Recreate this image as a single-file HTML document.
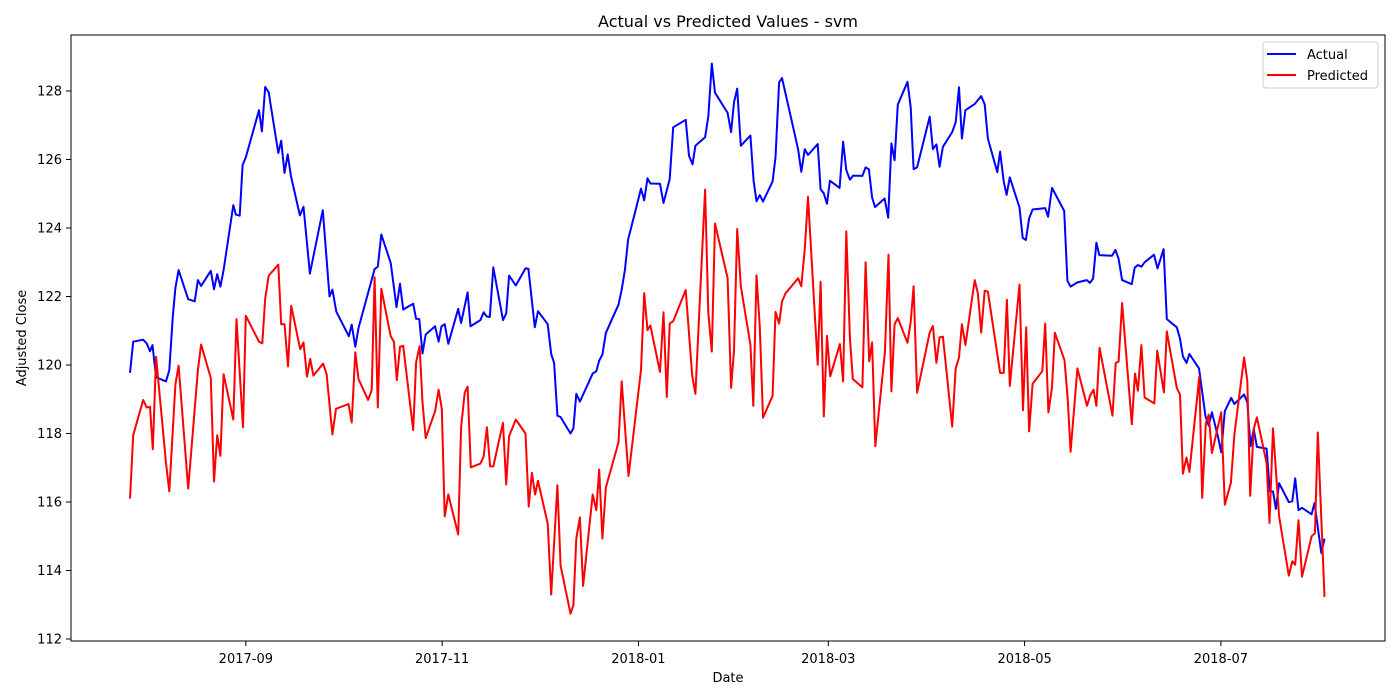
<!DOCTYPE html>
<html><head><meta charset="utf-8"><style>
body{margin:0;background:#fff;}
svg{display:block;font-family:"DejaVu Sans","Liberation Sans",sans-serif;}
</style></head><body>
<svg id="chart" width="1400" height="700" viewBox="0 0 1400 700">
<rect x="0" y="0" width="1400" height="700" fill="#fff"/>
<text x="728" y="27" text-anchor="middle" font-size="16" fill="#000">Actual vs Predicted Values - svm</text>
<g id="plot"></g>
<rect x="71" y="35" width="1314" height="606" fill="none" stroke="#000" stroke-width="1"/>
<text x="728" y="682" text-anchor="middle" font-size="13">Date</text>
<text x="26" y="338" text-anchor="middle" font-size="13" transform="rotate(-90 26 338)">Adjusted Close</text>
<g>
<rect x="1263" y="42" width="115" height="46" rx="3" fill="#fff" stroke="#ccc"/>
<line x1="1267" y1="54" x2="1296" y2="54" stroke="#0000ff" stroke-width="2"/>
<text x="1307" y="59" font-size="13">Actual</text>
<line x1="1267" y1="75" x2="1296" y2="75" stroke="#ff0000" stroke-width="2"/>
<text x="1307" y="80" font-size="13">Predicted</text>
</g>
</svg>
<script>
// Data: days since 2017-07-27, values in Adjusted Close
const actualDays=[0,1,4.1,5.2,6.2,7,8.1,11.2,12.2,13.3,14.1,15.1,18.1,20.1,21.1,22.1,25.1,26.1,27.1,28.1,29.1,32.1,32.9,34.1,35,36,40.1,41,42,43.1,46.1,47,48,49,50,52.8,53.9,55.9,59.9,62,62.9,64.1,68,68.9,70,71,76,77,78.1,81,82.8,83.9,84.9,88,88.9,89.9,90.9,91.9,94.8,95.9,96.8,97.8,98.9,102,102.9,104.9,105.8,108.9,109.9,110.8,111.8,112.9,115.9,116.9,117.8,119.9,122.9,123.8,125.8,126.8,129.8,130.9,131.8,132.8,133.8,136.9,137.8,138.7,139.8,143.8,144.9,145.8,146.8,147.9,151.8,152.8,153.8,154.8,156.9,158.8,159.8,160.8,161.7,164.7,165.8,167.7,168.8,172.7,173.7,174.8,175.7,178.7,179.7,180.8,181.8,185.7,186.8,187.7,188.7,189.8,192.8,193.8,194.7,195.7,196.7,199.7,200.6,201.7,202.6,207.6,208.6,209.7,210.7,213.7,214.6,215.6,216.6,217.5,220.5,221.6,222.6,223.7,224.7,227.6,228.6,229.6,230.6,231.5,234.5,235.6,236.6,237.6,238.6,241.6,242.6,243.5,244.6,248.5,249.5,250.6,251.6,252.6,255.5,256.6,257.6,258.5,259.6,262.5,264.5,265.6,266.6,269.5,270.4,271.5,272.4,273.4,276.4,277.4,278.4,279.4,280.5,284.4,285.3,286.5,290.3,291.3,292.3,294.3,297.3,298.3,299.3,300.3,301.2,305.2,306.2,307.2,308.3,311.3,312.2,313.2,314.3,315.3,318.2,319.3,321.2,322.2,325.3,326.3,327.2,328.3,329.2,332.2,334.2,335.2,336.2,338.2,339.1,340.2,342.2,343.2,346.2,347.2,348.2,349.2,350.2,353.2,354.2,355.2,356.1,357.1,360.1,361.2,362.1,363.1,364.2,367.2,368.1,370.2,371.2];
const actualValues=[119.77,120.68,120.74,120.63,120.4,120.58,119.64,119.52,119.85,121.42,122.25,122.77,121.92,121.86,122.48,122.31,122.75,122.21,122.65,122.29,122.77,124.67,124.39,124.36,125.84,126.06,127.44,126.82,128.12,127.96,126.19,126.55,125.61,126.15,125.52,124.37,124.62,122.67,124.52,122,122.2,121.56,120.84,121.18,120.53,121.08,122.8,122.87,123.81,122.98,121.69,122.37,121.62,121.79,121.35,121.34,120.34,120.89,121.13,120.68,121.13,121.19,120.62,121.64,121.23,122.12,121.13,121.31,121.54,121.42,121.4,122.85,121.31,121.5,122.61,122.32,122.82,122.81,121.1,121.57,121.19,120.32,120.06,118.52,118.48,118,118.15,119.16,118.93,119.75,119.82,120.13,120.3,120.94,121.76,122.2,122.77,123.66,124.44,125.15,124.81,125.45,125.3,125.29,124.73,125.43,126.94,127.16,126.11,125.86,126.4,126.65,127.25,128.8,127.95,127.36,126.8,127.67,128.07,126.4,126.7,125.38,124.78,124.96,124.77,125.36,126.06,128.25,128.38,126.3,125.64,126.3,126.13,126.45,125.13,125.01,124.71,125.38,125.17,126.52,125.69,125.41,125.53,125.52,125.77,125.71,124.89,124.61,124.86,124.3,126.47,125.98,127.6,128.27,127.52,125.72,125.77,127.25,126.3,126.44,125.79,126.37,126.8,127.09,128.11,126.61,127.44,127.62,127.85,127.61,126.61,125.63,126.23,125.36,124.97,125.48,124.6,123.71,123.65,124.28,124.54,124.58,124.33,125.17,124.5,122.46,122.29,122.41,122.48,122.4,122.52,123.57,123.21,123.19,123.36,123.1,122.48,122.36,122.84,122.92,122.87,123,123.22,122.82,123.38,121.34,121.1,120.77,120.25,120.06,120.32,119.9,118.5,118.23,118.62,117.87,117.45,118.65,119.04,118.86,119.14,118.91,117.63,118.13,117.61,117.56,116.31,116.31,115.8,116.55,116,116.02,116.69,115.76,115.83,115.64,115.97,114.51,114.93];
const predictedDays=[0,1,4.1,5.2,6.2,7.1,8.1,11.2,12.2,14.1,15.1,18.1,21.1,22.1,25.1,26.1,27.1,28.1,29.1,32.1,33.1,35.1,36,40.1,41.1,42,43.1,46.1,47,48,49.1,50.1,52.9,53.9,55,56,57,60,61.1,62.9,64,67.9,68.9,70,71,74,75.1,76,77,78.1,81,82,82.9,83.9,84.9,88,88.9,90,90.9,91.9,94.8,95.9,96.9,97.8,98.9,102,102.9,104,104.9,105.9,108.9,109.9,110.9,111.9,112.9,115.9,116.9,117.8,119.9,122.9,123.9,124.9,125.9,126.8,129.8,130.9,132.8,133.8,136.9,137.8,138.7,139.8,140.8,143.8,144.9,145.8,146.8,147.9,151.8,152.8,154.9,158.8,159.8,160.8,161.7,164.7,165.8,166.8,167.7,168.8,172.7,174.7,175.7,178.7,179.7,180.8,181.8,185.7,186.8,187.7,188.7,189.8,192.8,193.7,194.7,195.7,196.7,199.7,200.6,201.7,202.6,203.7,207.6,208.6,209.7,210.7,213.7,214.6,215.6,216.6,217.6,220.6,221.6,222.6,223.7,224.6,227.6,228.6,229.7,230.6,231.6,234.6,235.7,236.6,237.6,238.6,241.6,242.6,243.5,244.6,248.5,249.5,250.6,251.6,252.6,255.5,256.6,257.6,258.5,259.6,262.5,263.5,264.5,265.6,266.6,270.4,271.5,272.5,273.4,276.4,277.5,278.5,279.4,280.5,283.5,284.4,285.4,286.5,287.4,290.4,291.4,292.3,294.4,297.4,298.4,299.4,300.3,301.3,305.3,306.3,307.2,308.3,311.3,312.3,313.2,314.3,315.3,318.3,319.2,321.3,322.2,325.3,326.3,327.2,328.3,329.2,332.3,333.2,334.3,335.2,336.2,339.1,340.2,342.1,343.2,346.2,347.2,348.1,349.2,350.2,353.2,354.1,355.2,357.1,360.1,361.2,362.1,363.1,364.2,367.2,368.2,369.1,371.2];
const predictedValues=[116.1,117.95,118.98,118.76,118.78,117.54,120.24,117.14,116.31,119.43,119.98,116.39,119.85,120.6,119.62,116.6,117.95,117.35,119.73,118.41,121.34,118.18,121.44,120.68,120.63,121.94,122.61,122.93,121.19,121.19,119.96,121.73,120.46,120.66,119.66,120.18,119.69,120.04,119.73,117.97,118.72,118.86,118.32,120.37,119.59,118.98,119.26,122.56,118.76,122.23,120.84,120.68,119.56,120.53,120.56,118.1,120.08,120.55,118.91,117.87,118.65,119.28,118.72,115.58,116.22,115.05,118.18,119.19,119.37,117.01,117.12,117.33,118.18,117.04,117.04,118.31,116.51,117.92,118.41,118,115.87,116.85,116.22,116.62,115.37,113.3,116.49,114.14,112.74,112.99,114.93,115.55,113.55,116.22,115.76,116.95,114.93,116.43,117.74,119.52,116.76,119.85,122.1,121.02,121.15,119.8,121.54,119.07,121.21,121.28,122.19,119.69,119.16,125.12,121.52,120.39,124.13,122.54,119.33,120.42,123.97,122.3,120.6,118.81,122.62,121.1,118.46,119.1,121.55,121.21,121.85,122.09,122.53,122.3,123.4,124.91,120.01,122.43,118.5,120.85,119.67,120.61,119.52,123.9,120.79,119.59,119.35,123,120.11,120.66,117.63,120.37,123.22,119.23,121.19,121.37,120.65,121.26,122.3,119.19,120.95,121.14,120.06,120.81,120.83,118.2,119.9,120.22,121.19,120.58,122.48,122.09,120.95,122.17,122.14,119.77,119.77,121.9,119.39,122.35,118.68,121.1,118.06,119.45,119.82,121.21,118.62,119.35,120.94,120.14,119.02,117.47,119.9,118.81,119.12,119.28,118.81,120.5,118.52,120.06,120.1,121.81,118.27,119.75,119.25,120.58,119.05,118.88,120.42,119.2,120.98,119.33,119.14,116.83,117.3,116.88,119.66,116.12,118.29,118.55,117.43,118.62,115.92,116.56,117.97,120.22,119.54,116.18,118.13,118.47,117.14,115.39,118.15,115.58,113.85,114.27,114.17,115.47,113.82,115,115.09,118.03,113.23];
const yTicks=[112,114,116,118,120,122,124,126,128];
const xTickDates=["2017-09-01","2017-11-01","2018-01-01","2018-03-01","2018-05-01","2018-07-01"];
const xTickLabels=["2017-09","2017-11","2018-01","2018-03","2018-05","2018-07"];
const originDate="2017-07-27";

const NS="http://www.w3.org/2000/svg";
const plot=document.getElementById('plot');
const xScale=d=>130+d*3.218;
const yScale=v=>639-(v-112)*34.25;
const dayOf=s=>(Date.parse(s)-Date.parse(originDate))/86400000;

yTicks.forEach(t=>{
  const y=yScale(t);
  const ln=document.createElementNS(NS,'line');
  ln.setAttribute('x1',66);ln.setAttribute('x2',71);ln.setAttribute('y1',y);ln.setAttribute('y2',y);
  ln.setAttribute('stroke','#000');
  
  
  plot.appendChild(ln);
  const tx=document.createElementNS(NS,'text');
  tx.setAttribute('x',62);tx.setAttribute('y',y+4.5);tx.setAttribute('text-anchor','end');tx.setAttribute('font-size','13');
  tx.textContent=t;
  
  
  plot.appendChild(tx);
});
xTickDates.forEach((s,i)=>{
  const x=xScale(dayOf(s));
  const ln=document.createElementNS(NS,'line');
  ln.setAttribute('x1',x);ln.setAttribute('x2',x);ln.setAttribute('y1',641);ln.setAttribute('y2',646);
  ln.setAttribute('stroke','#000');
  
  
  plot.appendChild(ln);
  const tx=document.createElementNS(NS,'text');
  tx.setAttribute('x',x);tx.setAttribute('y',663);tx.setAttribute('text-anchor','middle');tx.setAttribute('font-size','13');
  tx.textContent=xTickLabels[i];
  
  
  plot.appendChild(tx);
});
function drawLine(days,vals,color,name){
  const p=document.createElementNS(NS,'polyline');
  p.setAttribute('points',days.map((d,i)=>xScale(d).toFixed(1)+','+yScale(vals[i]).toFixed(1)).join(' '));
  p.setAttribute('fill','none');p.setAttribute('stroke',color);p.setAttribute('stroke-width','2');
  p.setAttribute('stroke-linejoin','round');
  
  
  plot.appendChild(p);
}
drawLine(actualDays,actualValues,'#0000ff','actual-line');
drawLine(predictedDays,predictedValues,'#ff0000','predicted-line');
</script>
</body></html>
